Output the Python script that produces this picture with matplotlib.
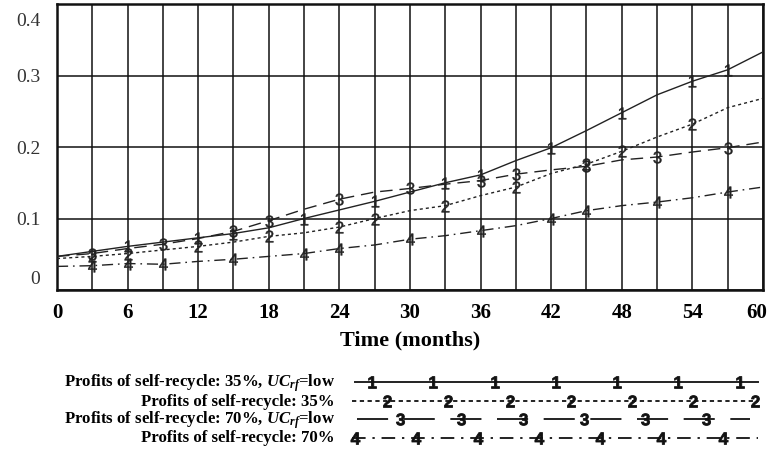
import numpy as np
import matplotlib
matplotlib.use("Agg")
import matplotlib.pyplot as plt
from matplotlib.ticker import MultipleLocator, FixedLocator
import matplotlib.transforms as mtransforms

# ---------------- data ----------------
months = [0, 3, 6, 9, 12, 15, 18, 21, 24, 27, 30, 33, 36, 39, 42, 45, 48, 51, 54, 57, 60]
self35_low = [0.047, 0.054, 0.061, 0.067, 0.073, 0.079, 0.087, 0.100, 0.112, 0.124, 0.137,
              0.150, 0.161, 0.181, 0.199, 0.223, 0.248, 0.273, 0.292, 0.308, 0.333]
self35 = [0.044, 0.047, 0.051, 0.056, 0.061, 0.067, 0.075, 0.080, 0.088, 0.100, 0.111,
          0.118, 0.132, 0.144, 0.163, 0.176, 0.194, 0.214, 0.232, 0.255, 0.268]
self70_low = [0.047, 0.051, 0.058, 0.064, 0.072, 0.082, 0.097, 0.113, 0.127, 0.137, 0.142,
              0.148, 0.153, 0.162, 0.168, 0.173, 0.182, 0.186, 0.193, 0.199, 0.207]
self70 = [0.033, 0.034, 0.037, 0.036, 0.040, 0.043, 0.047, 0.051, 0.058, 0.063, 0.071,
          0.076, 0.083, 0.090, 0.100, 0.111, 0.118, 0.123, 0.129, 0.137, 0.144]

series_values = [self35_low, self35, self70_low, self70]
series_ids = ["1", "2", "3", "4"]
series_labels = [
    "Profits of self-recycle: 35%, $UC_{rf}$=low",
    "Profits of self-recycle: 35%",
    "Profits of self-recycle: 70%, $UC_{rf}$=low",
    "Profits of self-recycle: 70%",
]
x_ticks = [0, 6, 12, 18, 24, 30, 36, 42, 48, 54, 60]
y_ticks = [0, 0.1, 0.2, 0.3, 0.4]
y_ticklabels = ["0", "0.1", "0.2", "0.3", "0.4"]
x_label = "Time (months)"

# ---------------- style ----------------
plt.rcParams["mathtext.fontset"] = "custom"
plt.rcParams["mathtext.rm"] = "Liberation Serif:bold"
plt.rcParams["mathtext.it"] = "Liberation Serif:italic:bold"
plt.rcParams["mathtext.sf"] = "Liberation Sans"
plt.rcParams["mathtext.bf"] = "Liberation Sans:bold"

W, H = 769, 459
LINE_C = "#222222"
linestyles = ["-", (0, (2.2, 2.2)), (0, (9, 5)), (0, (8, 3.5, 1.2, 3.5))]
mark_idx = [
    [2, 4, 5, 7, 9, 11, 12, 14, 16, 18, 19],
    [1, 2, 4, 6, 8, 9, 11, 13, 15, 16, 18],
    [1, 3, 5, 6, 8, 10, 12, 13, 15, 17, 19],
    [1, 2, 3, 5, 7, 8, 10, 12, 14, 15, 17, 19],
]

fig = plt.figure(figsize=(W / 100, H / 100), dpi=100)
ax = fig.add_axes([57 / W, 1 - 290 / H, 706 / W, 286 / H])

for vals, ls, sid, idx in zip(series_values, linestyles, series_ids, mark_idx):
    ax.plot(months, vals, ls=ls, color=LINE_C, lw=1.0,
            marker=r"$\mathsf{%s}$" % sid, markersize=8.5, markevery=idx,
            mfc=LINE_C, mec=LINE_C, mew=0.3, zorder=3)

ax.set_xlim(0, 60)
ax.set_ylim(0, 0.4)
ax.xaxis.set_major_locator(FixedLocator(x_ticks))
ax.xaxis.set_minor_locator(MultipleLocator(3))
ax.yaxis.set_major_locator(FixedLocator(y_ticks))
ax.set_yticklabels(y_ticklabels)
ax.set_axisbelow(True)
ax.grid(which="both", axis="x", color="#111111", lw=1.1)
ax.grid(which="major", axis="y", color="#111111", lw=1.1)
ax.tick_params(which="both", length=0)
ax.tick_params(axis="x", pad=9, labelsize=15)
ax.tick_params(axis="y", pad=12, labelsize=14, labelcolor="#333333")
for lab in ax.get_xticklabels():
    lab.set_fontfamily("Liberation Serif")
    lab.set_fontweight("bold")
for lab in ax.get_yticklabels():
    lab.set_fontfamily("Liberation Serif")
for sp in ax.spines.values():
    sp.set_linewidth(1.8)
    sp.set_color("#111111")

# shift the extreme labels inside like the original
def shift(label, dx_px, dy_px):
    label.set_transform(label.get_transform() +
                        mtransforms.ScaledTranslation(dx_px / 100, dy_px / 100, fig.dpi_scale_trans))

yt = ax.yaxis.get_major_ticks()
shift(yt[0].label1, 0, 12)
shift(yt[-1].label1, 0, -16)
xt = ax.xaxis.get_major_ticks()
shift(xt[-1].label1, -6, 0)

ax.set_xlabel(x_label, fontsize=16, fontweight="bold", family="Liberation Serif")
ax.xaxis.set_label_coords(0.5, -(340 - 290) / 286)
ax.xaxis.label.set_va("center")

# ---------------- legend ----------------
lax = fig.add_axes([340 / W, 1 - 452 / H, 428 / W, 82 / H])
lax.set_xlim(340, 768)
lax.set_ylim(452, 370)
lax.axis("off")
baselines = [387, 405.5, 424, 442.5]
seg = [(355, 758), (352, 758), (357, 750), (352, 758)]
mstart = [372, 387, 400, 355]
mcount = [7, 7, 6, 7]
leg_ls = ["-", (0, (2.2, 1.8)), (0, (16, 8)), (0, (7, 3.5, 1.2, 3.5))]
for i in range(4):
    yc = baselines[i] - 5
    lax.plot(seg[i], [yc, yc], ls=leg_ls[i], color=LINE_C, lw=1.4)
    mx = mstart[i] + 61.3 * np.arange(mcount[i])
    lax.plot(mx, np.full_like(mx, yc), ls="none", marker=r"$\mathbf{%s}$" % series_ids[i],
             markersize=8.5, mfc="#111111", mec="#111111", mew=0.6)
    fig.text(335 / W, 1 - baselines[i] / H, series_labels[i], ha="right", va="baseline",
             fontsize=12.1, fontweight="bold", family="Liberation Serif")

fig.savefig("out.png", dpi=100)
